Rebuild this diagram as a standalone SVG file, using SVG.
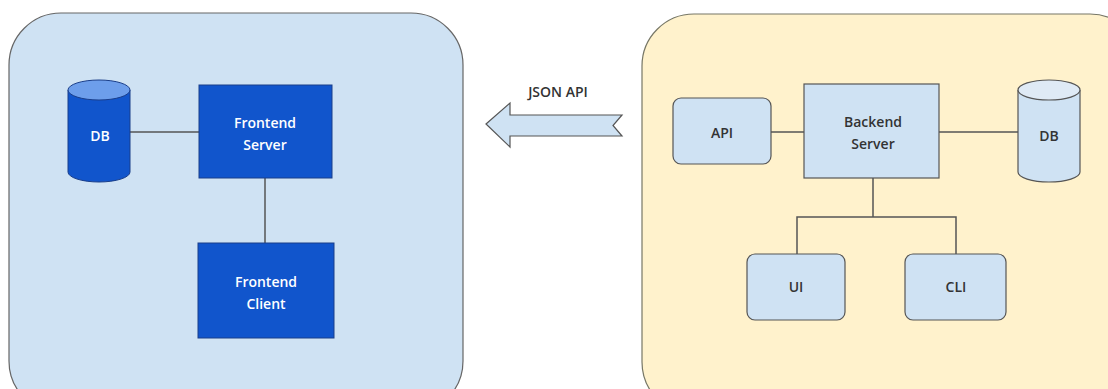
<svg xmlns="http://www.w3.org/2000/svg" width="1108" height="389" viewBox="0 0 1108 389">
<style>
text{font-family:"Open Sans","Liberation Sans",sans-serif;font-size:14px;font-weight:600;text-anchor:middle}
.w{fill:#ffffff}
.d{fill:#333333}
.dark{fill:#1155cc;stroke:#1a3e8a;stroke-width:1}
.light{fill:#cfe2f3;stroke:#555555;stroke-width:1.2}
.conn{stroke:#555555;stroke-width:1.5;fill:none}
</style>
<rect x="0" y="0" width="1108" height="389" fill="#ffffff"/>
<g id="frontend-container"><rect x="9" y="13" width="454" height="400" rx="52" fill="#cfe2f3" stroke="#666666" stroke-width="1.2"/></g>
<g id="backend-container"><rect x="642" y="14" width="500" height="400" rx="52" fill="#fff2cc" stroke="#777766" stroke-width="1.2"/></g>
<g id="connectors">
<line class="conn" x1="130" y1="132" x2="199" y2="132"/>
<line class="conn" x1="265" y1="178" x2="265" y2="243"/>
<line class="conn" x1="771" y1="132" x2="804" y2="132"/>
<line class="conn" x1="939" y1="132" x2="1018" y2="132"/>
<polyline class="conn" points="873,178 873,217"/>
<polyline class="conn" points="797,254 797,217 956,217 956,254"/>
</g>
<g id="json-api">
<polygon points="486,124 510,103 510,115 622,115 613,125.5 622,136 510,136 510,147" fill="#cfe2f3" stroke="#555555" stroke-width="1.2"/>
<text class="d" x="558" y="97">JSON API</text>
</g>
<g id="fe-db">
<path d="M68,90 L68,172 A31,10 0 0 0 130,172 L130,90" class="dark"/>
<ellipse cx="99" cy="90" rx="31" ry="10" fill="#6d9eeb" stroke="#1a3e8a"/>
<text class="w" x="100" y="141">DB</text>
</g>
<g id="fe-server"><rect class="dark" x="199" y="85" width="133" height="93"/>
<text class="w" x="265" y="128">Frontend</text><text class="w" x="265" y="150">Server</text></g>
<g id="fe-client"><rect class="dark" x="198" y="243" width="136" height="95"/>
<text class="w" x="266" y="287">Frontend</text><text class="w" x="266" y="309">Client</text></g>
<g id="api"><rect class="light" x="673" y="98" width="98" height="66" rx="8"/><text class="d" x="722" y="138">API</text></g>
<g id="be-server"><rect class="light" x="804" y="84" width="135" height="94"/>
<text class="d" x="873" y="127">Backend</text><text class="d" x="873" y="149">Server</text></g>
<g id="be-db">
<path d="M1018,90 L1018,172 A31,10 0 0 0 1080,172 L1080,90" class="light"/>
<ellipse cx="1049" cy="90" rx="31" ry="10" fill="#dfeaf5" stroke="#555555" stroke-width="1.2"/>
<text class="d" x="1049" y="141">DB</text>
</g>
<g id="ui"><rect class="light" x="747" y="254" width="98" height="66" rx="8"/><text class="d" x="796" y="292">UI</text></g>
<g id="cli"><rect class="light" x="905" y="254" width="101" height="66" rx="8"/><text class="d" x="956" y="292">CLI</text></g>
</svg>
